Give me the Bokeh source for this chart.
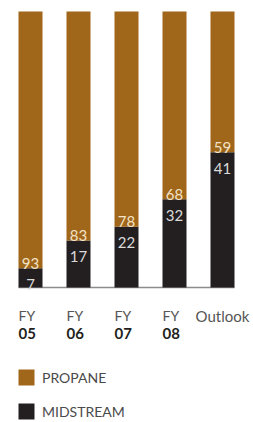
from bokeh.plotting import figure
from bokeh.models import ColumnDataSource, Legend, LegendItem, Range1d
from bokeh.core.properties import value
from bokeh.embed import file_html
from bokeh.resources import INLINE

# ---- data ----
categories = ["FY 05", "FY 06", "FY 07", "FY 08", "Outlook"]
tick_line1 = ["FY", "FY", "FY", "FY", "Outlook"]
tick_line2 = ["05", "06", "07", "08", ""]
midstream = [7, 17, 22, 32, 49]          # bar heights as drawn (%)
propane = [93, 83, 78, 68, 51]            # bar heights as drawn (%)
midstream_labels = ["7", "17", "22", "32", "41"]
propane_labels = ["93", "83", "78", "68", "59"]

PROPANE_C = "#A0661A"
MID_C = "#231F20"
FONT = "Lato"

W, H = 253, 422
xs = list(range(len(categories)))
bar_w = 0.5
# pixel layout: bar centres at 30 + 48*i, zero at y=287, 100% at y=11
px_per_x = 48.0
x0_px = 30.0
zero_px, top_px = 287.0, 11.0
ppu = (zero_px - top_px) / 100.0

p = figure(width=W, height=H, output_backend="svg", toolbar_location=None,
           x_range=Range1d(-x0_px / px_per_x, (W - x0_px) / px_per_x),
           y_range=Range1d(-(H - zero_px) / ppu, 100 + top_px / ppu),
           min_border=0)
p.axis.visible = False
p.grid.visible = False
p.outline_line_color = None
p.background_fill_color = "white"
p.border_fill_color = "white"

src = ColumnDataSource(dict(x=xs, midstream=midstream, propane=propane,
                            mid_lab=midstream_labels, pro_lab=propane_labels,
                            t1=tick_line1, t2=tick_line2))

# baseline
p.segment(x0=[xs[0] - bar_w / 2], y0=[0], x1=[xs[-1] + bar_w / 2], y1=[0],
          line_color="#8C8C8C", line_width=1.3)

rs = p.vbar_stack(["midstream", "propane"], x="x", width=bar_w,
                  color=[MID_C, PROPANE_C], line_color=None, source=src)

# value labels
p.text(x="x", y="midstream", text="mid_lab", source=src, text_align="center",
       text_baseline="alphabetic", y_offset=16, text_color="#DADADA",
       text_font=value(FONT), text_font_size="15px")
p.text(x="x", y="midstream", text="pro_lab", source=src, text_align="center",
       text_baseline="alphabetic", y_offset=-5, text_color="#F3E2C6",
       text_font=value(FONT), text_font_size="15px")

# category labels
fy_src = ColumnDataSource(dict(x=[x - bar_w / 2 for x in xs[:-1]],
                               y=[0] * (len(xs) - 1),
                               t1=tick_line1[:-1], t2=tick_line2[:-1]))
p.text(x="x", y="y", text="t1", source=fy_src, text_align="left",
       text_baseline="alphabetic", y_offset=28, text_color="#555555",
       text_font=value(FONT), text_font_size="14px")
p.text(x="x", y="y", text="t2", source=fy_src, text_align="left",
       text_baseline="alphabetic", y_offset=46, text_color=MID_C,
       text_font=value(FONT), text_font_size="15px", text_font_style="bold")
p.text(x=[xs[-1]], y=[0], text=[tick_line1[-1]], text_align="center",
       text_baseline="alphabetic", y_offset=28, x_offset=0, text_color="#555555",
       text_font=value(FONT), text_font_size="15px")

legend = Legend(items=[LegendItem(label="PROPANE", renderers=[rs[1]]),
                       LegendItem(label="MIDSTREAM", renderers=[rs[0]])],
                location=(16, 1), orientation="vertical",
                glyph_width=20, glyph_height=20, label_height=20,
                label_standoff=6, spacing=14, padding=0, margin=0,
                border_line_color=None, background_fill_alpha=0,
                label_text_font=FONT, label_text_font_size="14px",
                label_text_color="#4A4A4A")
p.add_layout(legend)

open("out.html", "w").write(file_html(p, INLINE))
